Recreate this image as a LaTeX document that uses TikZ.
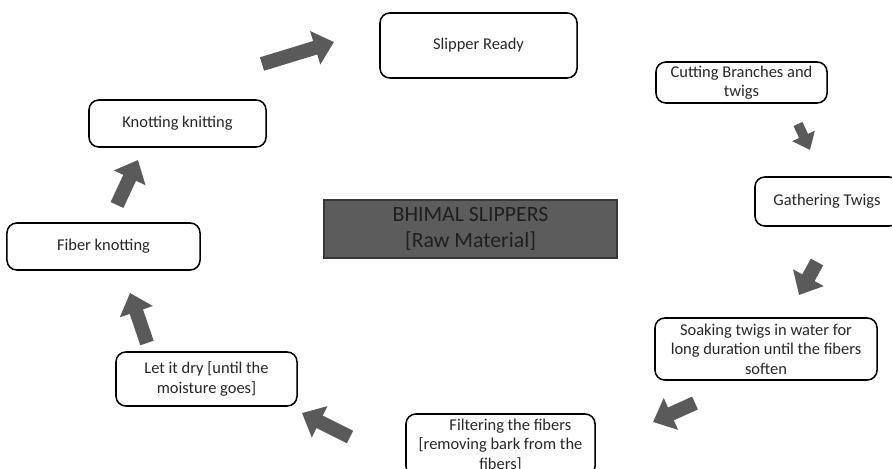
\documentclass[tikz,border=0pt]{standalone}
\usepackage{fontspec}
\setmainfont{Carlito}
\usetikzlibrary{arrows.meta}

\begin{document}
\begin{tikzpicture}[x=0.025cm,y=-0.025cm,
 stage/.style={draw,line width=1.1pt,rounded corners=7pt,align=center,
  inner sep=2pt,text=black!85,font=\fontsize{11.7}{13.8}\selectfont},
 flow/.style={draw=arrowgray,line width=10pt,
  -{Triangle[width=24pt,length=14pt,fill=arrowgray]}},
 smallflow/.style={flow,line width=7pt,
  -{Triangle[width=17pt,length=11pt,fill=arrowgray]}}]
\definecolor{arrowgray}{RGB}{90,90,90}
\definecolor{coregray}{RGB}{92,92,92}
\useasboundingbox (0,0) rectangle (892,468);
% Process steps, clockwise from the top right
\node[stage,minimum width=4.275cm,minimum height=1.025cm] (cut) at (741.5,82.5)
 {Cutting Branches and\\twigs};
\node[stage,minimum width=3.6cm,minimum height=1.225cm] (gather) at (827,201.5)
 {Gathering Twigs};
\node[stage,minimum width=5.55cm,minimum height=1.55cm] (soak) at (766,349)
 {Soaking twigs in water for\\long duration until the fibers\\soften};
\node[stage,minimum width=4.725cm,minimum height=1.55cm] (filter) at (500.5,445)
 {\hspace*{14pt}Filtering the fibers\\{[}removing bark from the\\fibers{]}};
\node[stage,minimum width=4.525cm,minimum height=1.35cm] (dry) at (206.5,379)
 {Let it dry {[}until the\\moisture goes{]}};
\node[stage,minimum width=4.825cm,minimum height=1.175cm] (fiber) at (103.5,246.5)
 {Fiber knotting};
\node[stage,minimum width=4.425cm,minimum height=1.175cm] (knit) at (177.5,123.5)
 {Knotting knitting};
\node[stage,minimum width=4.925cm,minimum height=1.625cm] (ready) at (478.5,45.5)
 {Slipper Ready};
\node[draw=coregray!60!black,fill=coregray,line width=1.6pt,align=center,
 minimum width=7.325cm,minimum height=1.45cm,text=black!88,
 font=\fontsize{15.5}{18.4}\selectfont] (core) at (470.5,229)
 {BHIMAL SLIPPERS\\{[}Raw Material{]}};

% Block arrows sit in the gaps between the boxes
\coordinate (t1) at (262,64);  \coordinate (h1) at (334,42);
\coordinate (t2) at (798,124); \coordinate (h2) at (810,150);
\coordinate (t3) at (817,262); \coordinate (h3) at (799,295);
\coordinate (t4) at (695,403); \coordinate (h4) at (653,422);
\coordinate (t5) at (350,437); \coordinate (h5) at (302,413);
\coordinate (t6) at (147,343); \coordinate (h6) at (130,293);
\coordinate (t7) at (117,205); \coordinate (h7) at (138,160);
\draw[flow] (t1) -- (h1);
\draw[smallflow] (t2) -- (h2);
\draw[flow] (t3) -- (h3);
\draw[flow] (t4) -- (h4);
\draw[flow] (t5) -- (h5);
\draw[flow] (t6) -- (h6);
\draw[flow] (t7) -- (h7);
\end{tikzpicture}
\end{document}
